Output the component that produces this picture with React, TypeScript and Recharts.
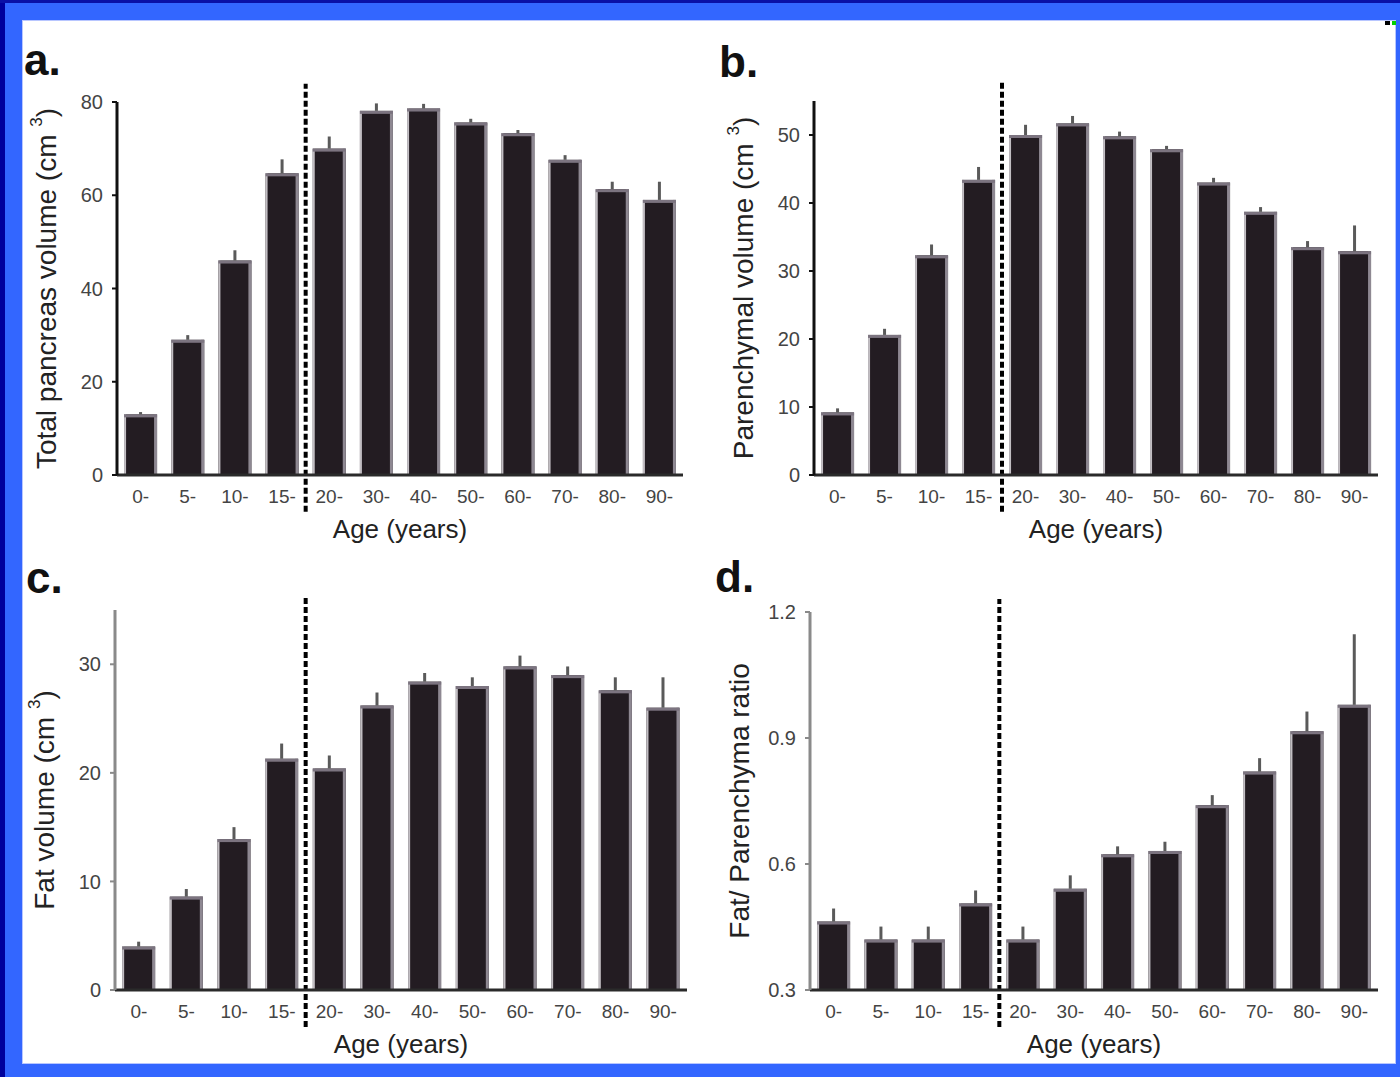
import React from 'react';
import { BarChart, Bar, XAxis, YAxis, ErrorBar, ReferenceLine, Label } from 'recharts';

// age bins shared by all four panels
const ageGroups = ['0-', '5-', '10-', '15-', '20-', '30-', '40-', '50-', '60-', '70-', '80-', '90-'];

// a. total pancreas volume (cm3), mean and upper error
const totalVolume = [13, 29, 46, 64.7, 70, 78.1, 78.6, 75.6, 73.3, 67.6, 61.3, 59];
const totalVolumeErr = [0.5, 1, 2.2, 3, 2.6, 1.6, 1, 0.8, 0.7, 1, 1.6, 3.9];

// b. parenchymal volume (cm3)
const parenchymaVolume = [9.2, 20.6, 32.3, 43.4, 50, 51.7, 49.8, 47.9, 43, 38.7, 33.5, 32.9];
const parenchymaVolumeErr = [0.6, 0.9, 1.6, 1.9, 1.5, 1.1, 0.7, 0.5, 0.7, 0.7, 0.9, 3.8];

// c. fat volume (cm3)
const fatVolume = [4.0, 8.6, 13.9, 21.3, 20.4, 26.2, 28.4, 28.0, 29.8, 29.0, 27.6, 26.0];
const fatVolumeErr = [0.45, 0.7, 1.1, 1.4, 1.2, 1.2, 0.8, 0.8, 1.0, 0.8, 1.2, 2.8];

// d. fat / parenchyma ratio
const fatRatio = [0.463, 0.42, 0.42, 0.506, 0.42, 0.541, 0.623, 0.631, 0.74, 0.82, 0.916, 0.979];
const fatRatioErr = [0.031, 0.031, 0.031, 0.031, 0.031, 0.032, 0.019, 0.022, 0.024, 0.032, 0.047, 0.168];

const ticksA = [0, 20, 40, 60, 80];
const ticksB = [0, 10, 20, 30, 40, 50];
const ticksC = [0, 10, 20, 30];
const ticksD = [0.3, 0.6, 0.9, 1.2];

const FONT = '"Liberation Sans", Arial, Helvetica, sans-serif';

const BarShape = (props: any) => {
  const { x, y, width, height } = props;
  if (!height || height <= 0) return null;
  return (
    <g>
      <rect x={x} y={y} width={width} height={height} fill="#231c22" />
      <rect x={x} y={y} width={2} height={height} fill="#c2bec3" />
      <rect x={x + width - 3} y={y} width={3} height={height} fill="#8e8892" />
      <rect x={x} y={y} width={width} height={3} fill="#7c7480" />
    </g>
  );
};

const YTitle = (props: any) => {
  const { viewBox, title } = props;
  const cx = viewBox.x + viewBox.width - 71;
  const cy = viewBox.y + viewBox.height / 2;
  return (
    <text
      x={cx}
      y={cy}
      transform={`rotate(-90 ${cx} ${cy})`}
      textAnchor="middle"
      dominantBaseline="central"
      fill="#222"
      fontSize={28}
      fontFamily={FONT}
    >
      {title}
    </text>
  );
};

const XTitle = (props: any) => {
  const { viewBox } = props;
  return (
    <text
      x={viewBox.x + viewBox.width / 2}
      y={viewBox.y + 54}
      textAnchor="middle"
      dominantBaseline="central"
      fill="#222"
      fontSize={26}
      fontFamily={FONT}
    >
      Age (years)
    </text>
  );
};

const cm3 = (label: string) => (
  <>
    {label} (cm{' '}
    <tspan dy={-10} fontSize={17}>3</tspan>
    <tspan dy={10}>)</tspan>
  </>
);

interface PanelProps {
  left: number;
  top: number;
  width: number;
  height: number;
  margin: { top: number; right: number; bottom: number; left: number };
  values: number[];
  errors: number[];
  domain: [number, number];
  ticks: number[];
  yTitle: React.ReactNode;
  divider: [number, number];
  axisColor: string;
  decimals?: number;
}

const Panel: React.FC<PanelProps> = ({ left, top, width, height, margin, values, errors, domain, ticks, yTitle, divider, axisColor, decimals = 0 }) => {
  const data = ageGroups.map((age, i) => ({ age, value: values[i], err: [0, errors[i]] }));
  return (
    <div style={{ position: 'absolute', left, top }}>
      <BarChart width={width} height={height} data={data} margin={margin} barCategoryGap="15%">
        <XAxis
          dataKey="age"
          height={40}
          interval={0}
          axisLine={{ stroke: '#2a2a2a', strokeWidth: 3 }}
          tickLine={false}
          tickSize={6}
          tickMargin={9}
          tick={{ fill: '#444', fontSize: 19, fontFamily: FONT }}
        >
          <Label content={<XTitle />} />
        </XAxis>
        <YAxis
          width={70}
          type="number"
          domain={domain}
          ticks={ticks}
          interval={0}
          allowDataOverflow
          axisLine={{ stroke: axisColor, strokeWidth: 3 }}
          tickLine={{ stroke: axisColor, strokeWidth: 2 }}
          tickSize={5}
          tickMargin={9}
          tick={{ fill: '#444', fontSize: 20, fontFamily: FONT }}
          tickFormatter={(v: number) => v.toFixed(decimals)}
        >
          <Label content={<YTitle title={yTitle} />} />
        </YAxis>
        <Bar dataKey="value" shape={<BarShape />} isAnimationActive={false}>
          <ErrorBar dataKey="err" direction="y" width={0} stroke="#5a5a5a" strokeWidth={3} isAnimationActive={false} />
        </Bar>
        <ReferenceLine
          segment={[{ x: '15-', y: divider[0] }, { x: '15-', y: divider[1] }]}
          position="end"
          ifOverflow="visible"
          stroke="#000"
          strokeWidth={4}
          strokeDasharray="6 3"
        />
      </BarChart>
    </div>
  );
};

const panelLetters = [
  { text: 'a.', x: 24, y: 75 },
  { text: 'b.', x: 719, y: 77 },
  { text: 'c.', x: 26, y: 593 },
  { text: 'd.', x: 715, y: 592 },
];

export default function App() {
  return (
    <div style={{ position: 'absolute', left: 0, top: 0, width: 1400, height: 1077, background: '#3366ff', overflow: 'hidden' }}>
      <div style={{ position: 'absolute', left: 0, top: 0, width: 5, height: 1077, background: '#00009c' }} />
      <div style={{ position: 'absolute', left: 0, top: 0, width: 1400, height: 3, background: '#0a10a6' }} />
      <div style={{ position: 'absolute', left: 23, top: 21, width: 1372, height: 1042, background: '#fff', boxShadow: '0 0 0 1px #b8c6ff' }} />
      <div style={{ position: 'absolute', left: 1385, top: 21, width: 5, height: 4, background: '#000' }} />
      <div style={{ position: 'absolute', left: 1392, top: 21, width: 4, height: 4, background: '#00d000' }} />

      <Panel
        left={0}
        top={0}
        width={700}
        height={560}
        margin={{ top: 102, right: 17, bottom: 45, left: 47 }}
        values={totalVolume}
        errors={totalVolumeErr}
        domain={[0, 80]}
        ticks={ticksA}
        yTitle={cm3('Total pancreas volume')}
        divider={[-7.9, 83.9]}
        axisColor="#111"
      />
      <Panel
        left={700}
        top={0}
        width={700}
        height={560}
        margin={{ top: 101, right: 22, bottom: 45, left: 44 }}
        values={parenchymaVolume}
        errors={parenchymaVolumeErr}
        domain={[0, 55]}
        ticks={ticksB}
        yTitle={cm3('Parenchymal volume')}
        divider={[-5.4, 58.1]}
        axisColor="#111"
      />
      <Panel
        left={0}
        top={560}
        width={700}
        height={517}
        margin={{ top: 50, right: 13, bottom: 47, left: 45 }}
        values={fatVolume}
        errors={fatVolumeErr}
        domain={[0, 35]}
        ticks={ticksC}
        yTitle={cm3('Fat volume')}
        divider={[-3.4, 36.1]}
        axisColor="#8a8a8a"
      />
      <Panel
        left={700}
        top={560}
        width={700}
        height={517}
        margin={{ top: 52, right: 22, bottom: 47, left: 40 }}
        values={fatRatio}
        errors={fatRatioErr}
        domain={[0.3, 1.2]}
        ticks={ticksD}
        yTitle="Fat/ Parenchyma ratio"
        divider={[0.212, 1.231]}
        axisColor="#8a8a8a"
        decimals={1}
      />

      <svg width={1400} height={1077} style={{ position: 'absolute', left: 0, top: 0, pointerEvents: 'none' }}>
        {panelLetters.map((p) => (
          <text key={p.text} x={p.x} y={p.y} fontSize={44} fontWeight="bold" fontFamily={FONT} fill="#111">
            {p.text}
          </text>
        ))}
      </svg>
    </div>
  );
}
